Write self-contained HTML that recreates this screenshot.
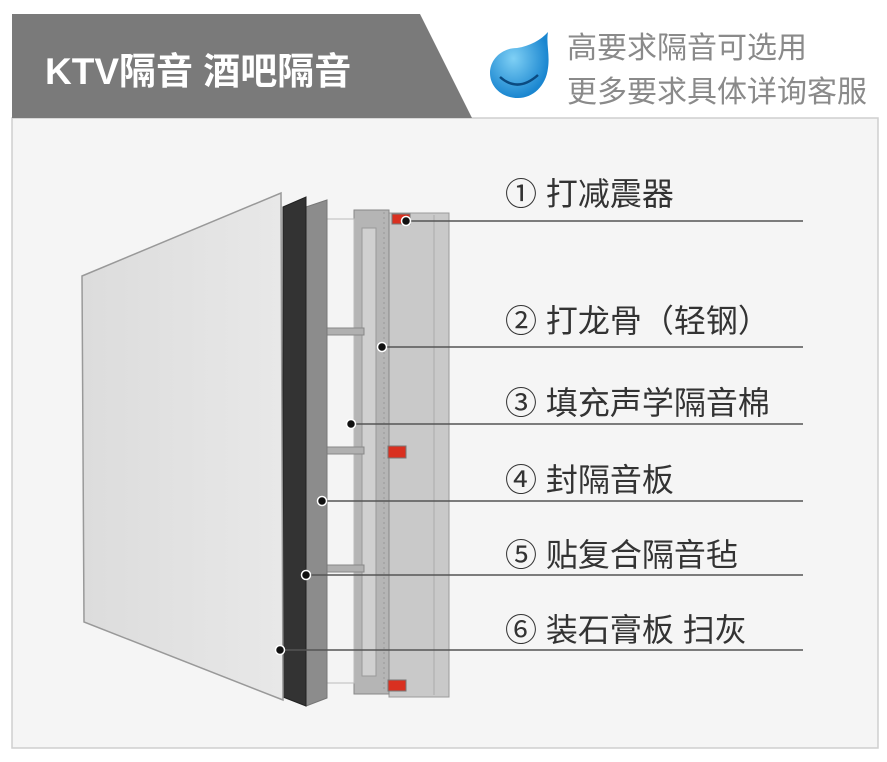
<!DOCTYPE html>
<html><head><meta charset="utf-8"><style>
body{margin:0;width:887px;height:762px;background:#fff;overflow:hidden;font-family:"Liberation Sans","Noto Sans CJK SC",sans-serif}
</style></head><body>
<svg width="887" height="762" viewBox="0 0 887 762" xmlns="http://www.w3.org/2000/svg" style="position:absolute;left:0;top:0">
<defs>
<radialGradient id="drop" cx="40%" cy="40%" r="60%"><stop offset="0" stop-color="#7fd0f5"/><stop offset="1" stop-color="#1a86d0"/></radialGradient>
<linearGradient id="fp" x1="0" y1="0" x2="1" y2="0"><stop offset="0" stop-color="#dcdcdc"/><stop offset="1" stop-color="#e8e8e8"/></linearGradient>
</defs>
<rect x="12" y="118" width="866" height="630" fill="#f5f5f5" stroke="#cfcfcf" stroke-width="1.5"/>
<polygon points="12,14 420,14 472,118 12,118" fill="#7a7a7a"/>
<text x="45" y="84" font-size="37" font-weight="bold" fill="#fff">KTV隔音 酒吧隔音</text>
<path d="M517,48 C530,46 541,40 548,32 C546,44 550,54 548,68 C546,86 533,98 518,98 C502,98 490,87 490,73 C490,59 502,48 517,48Z" fill="url(#drop)"/>
<path d="M500,77 Q518,93 538,75" stroke="#0b4a80" stroke-width="2.5" fill="none"/>
<text x="567" y="58" font-size="30" fill="#8a8a8a">高要求隔音可选用</text>
<text x="567" y="102" font-size="30" fill="#8a8a8a">更多要求具体详询客服</text>

<rect x="389" y="213" width="60" height="484" fill="#c9c9c9" stroke="#9a9a9a"/>
<line x1="434" y1="215" x2="434" y2="695" stroke="#aaa"/>
<rect x="354" y="210" width="35" height="484" fill="#b5b5b5" stroke="#888"/>
<rect x="362" y="228" width="14" height="448" fill="#d0d0d0" stroke="#999"/>
<line x1="384" y1="212" x2="384" y2="692" stroke="#999" stroke-dasharray="2 3"/>
<rect x="327" y="219" width="27" height="464" fill="#f4f4f4" stroke="#bbb"/>
<g fill="#b0b0b0" stroke="#888">
<rect x="318" y="328" width="46" height="7"/><rect x="318" y="447" width="46" height="7"/><rect x="318" y="565" width="46" height="7"/>
</g>
<g fill="#d93020" stroke="#777"><rect x="392" y="214" width="18" height="10"/><rect x="388" y="446" width="18" height="12"/><rect x="388" y="680" width="18" height="11"/></g>
<polygon points="306,207 327,200 327,698 306,706" fill="#8c8c8c" stroke="#777"/>
<polygon points="283,207 306,197 306,706 283,697" fill="#333" stroke="#222"/>
<polygon points="82,276 281,193 283,700 84,622" fill="url(#fp)" stroke="#999" stroke-width="1.5"/>

<g stroke="#555" stroke-width="1.5">
<line x1="406" y1="221" x2="803" y2="221"/>
<line x1="382" y1="347" x2="803" y2="347"/>
<line x1="351" y1="424" x2="803" y2="424"/>
<line x1="322" y1="501" x2="803" y2="501"/>
<line x1="306" y1="575" x2="803" y2="575"/>
<line x1="280" y1="650" x2="803" y2="650"/>
</g>
<g fill="#111" stroke="#fff" stroke-width="1.5">
<circle cx="406" cy="221" r="4.5"/><circle cx="382" cy="347" r="4.5"/><circle cx="351" cy="424" r="4.5"/>
<circle cx="322" cy="501" r="4.5"/><circle cx="306" cy="575" r="4.5"/><circle cx="280" cy="650" r="4.5"/>
</g>
<g font-size="32" fill="#333">
<text x="505" y="205">① 打减震器</text>
<text x="505" y="332">② 打龙骨（轻钢）</text>
<text x="505" y="414">③ 填充声学隔音棉</text>
<text x="505" y="491">④ 封隔音板</text>
<text x="505" y="566">⑤ 贴复合隔音毡</text>
<text x="505" y="641">⑥ 装石膏板 扫灰</text>
</g>
</svg>
</body></html>
